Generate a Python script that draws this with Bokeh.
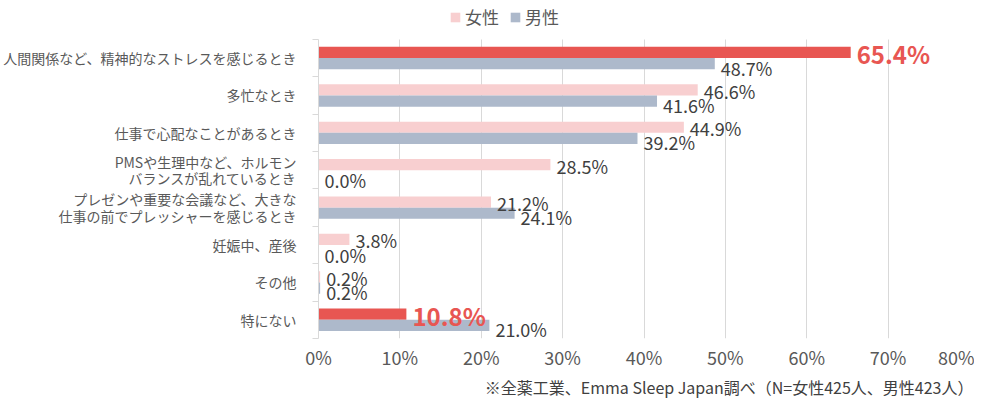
from bokeh.plotting import figure
from bokeh.models import (ColumnDataSource, FixedTicker, Range1d, Legend, LegendItem,
                          Title, PrintfTickFormatter)
from bokeh.embed import file_html
from bokeh.resources import INLINE
from bokeh.core.properties import value

# ---- data ----
categories = [
    "人間関係など、精神的なストレスを感じるとき",
    "多忙なとき",
    "仕事で心配なことがあるとき",
    "PMSや生理中など、ホルモン\nバランスが乱れているとき",
    "プレゼンや重要な会議など、大きな\n仕事の前でプレッシャーを感じるとき",
    "妊娠中、産後",
    "その他",
    "特にない",
]
female = [65.4, 46.6, 44.9, 28.5, 21.2, 3.8, 0.2, 10.8]
male = [48.7, 41.6, 39.2, 0.0, 24.1, 0.0, 0.2, 21.0]
series = ["女性", "男性"]
highlight = ["人間関係など、精神的なストレスを感じるとき", "特にない"]
x_ticks = [0, 10, 20, 30, 40, 50, 60, 70, 80]
footnote = "※全薬工業、Emma Sleep Japan調べ（N=女性425人、男性423人）"

# ---- styles / layout ----
PINK = "#F8CFD0"
RED = "#E85652"
GRAYBLUE = "#ADB9CB"
FONT = "Noto Sans CJK JP"
AXIS_TEXT = "#595959"
VALUE_TEXT = "#404040"
GRID = "#D9D9D9"
BAR_H = 0.3
LEGEND_SPACE = 1.04   # extra room above the bars (in band units) for the legend

n = len(categories)
centers = [n - i - 0.5 for i in range(n)]
is_hl = [c in highlight for c in categories]

f_src = ColumnDataSource(dict(
    y=[c + BAR_H / 2 for c in centers], v=female,
    color=[RED if h else PINK for h in is_hl],
))
m_src = ColumnDataSource(dict(y=[c - BAR_H / 2 for c in centers], v=male))

fl_norm = ColumnDataSource(dict(
    y=[c + BAR_H / 2 for c, h in zip(centers, is_hl) if not h],
    v=[v for v, h in zip(female, is_hl) if not h],
    t=[f"{v:.1f}%" for v, h in zip(female, is_hl) if not h],
))
fl_hl = ColumnDataSource(dict(
    y=[c + BAR_H / 2 for c, h in zip(centers, is_hl) if h],
    v=[v for v, h in zip(female, is_hl) if h],
    t=[f"{v:.1f}%" for v, h in zip(female, is_hl) if h],
))
ml = ColumnDataSource(dict(
    y=[c - BAR_H / 2 for c in centers], v=male, t=[f"{v:.1f}%" for v in male],
))

p = figure(width=974, height=398, output_backend="svg", toolbar_location=None,
           x_range=Range1d(x_ticks[0], x_ticks[-1]),
           y_range=Range1d(0, n + LEGEND_SPACE),
           min_border_left=310, min_border_right=5, min_border_top=0,
           min_border_bottom=56)
p.outline_line_color = None
p.background_fill_color = "white"
p.border_fill_color = "white"

rf = p.hbar(y="y", left=0, right="v", height=BAR_H, fill_color="color",
            line_color=None, source=f_src)
rm = p.hbar(y="y", left=0, right="v", height=BAR_H, fill_color=GRAYBLUE,
            line_color=None, source=m_src)

p.text(x="v", y="y", text="t", source=fl_norm, x_offset=6, y_offset=1,
       text_baseline="middle", text_align="left", text_font=value(FONT),
       text_font_size="18px", text_color=VALUE_TEXT)
p.text(x="v", y="y", text="t", source=fl_hl, x_offset=6, y_offset=1,
       text_baseline="middle", text_align="left", text_font=value(FONT),
       text_font_size="24px", text_font_style="bold", text_color=RED)
p.text(x="v", y="y", text="t", source=ml, x_offset=6, y_offset=4,
       text_baseline="middle", text_align="left", text_font=value(FONT),
       text_font_size="18px", text_color=VALUE_TEXT)

# x axis
p.xaxis.ticker = FixedTicker(ticks=x_ticks)
p.xaxis.formatter = PrintfTickFormatter(format="%d%%")
p.xaxis.axis_line_color = None
p.xaxis.major_tick_line_color = None
p.xaxis.minor_tick_line_color = None
p.xaxis.major_tick_out = 0
p.xaxis.major_tick_in = 0
p.xaxis.minor_tick_out = 0
p.xaxis.major_label_standoff = 5
p.xaxis.major_label_text_font = FONT
p.xaxis.major_label_text_font_size = "18px"
p.xaxis.major_label_text_color = AXIS_TEXT

p.xgrid.ticker = FixedTicker(ticks=x_ticks)
p.xgrid.grid_line_color = GRID
p.xgrid.cross_bounds = (0, n)
p.ygrid.grid_line_color = None

# y axis
p.yaxis.bounds = (0, n)
p.yaxis.ticker = FixedTicker(ticks=centers, minor_ticks=list(range(n + 1)))
p.yaxis.major_label_overrides = {c: lab for c, lab in zip(centers, categories)}
p.yaxis.axis_line_color = GRID
p.yaxis.major_tick_line_color = None
p.yaxis.major_tick_out = 0
p.yaxis.major_tick_in = 0
p.yaxis.minor_tick_line_color = GRID
p.yaxis.minor_tick_out = 6
p.yaxis.minor_tick_in = 0
p.yaxis.major_label_standoff = 16
p.yaxis.major_label_text_font = FONT
p.yaxis.major_label_text_font_size = "14px"
p.yaxis.major_label_text_line_height = 0.82
p.yaxis.major_label_text_color = AXIS_TEXT

legend = Legend(items=[LegendItem(label=series[0], renderers=[rf], index=1),
                       LegendItem(label=series[1], renderers=[rm])],
                orientation="horizontal", location=(131, 309),
                border_line_color=None, background_fill_alpha=0,
                glyph_width=12, glyph_height=12, label_standoff=4, spacing=10,
                padding=0, margin=0, label_text_font=FONT,
                label_text_font_size="17px", label_text_color=AXIS_TEXT)
p.add_layout(legend, "center")

p.add_layout(Title(text=footnote, align="right", offset=-4, standoff=0,
                   text_font=FONT, text_font_size="16px", text_font_style="normal",
                   text_color=VALUE_TEXT), "below")

open("out.html", "w").write(file_html(p, INLINE))
